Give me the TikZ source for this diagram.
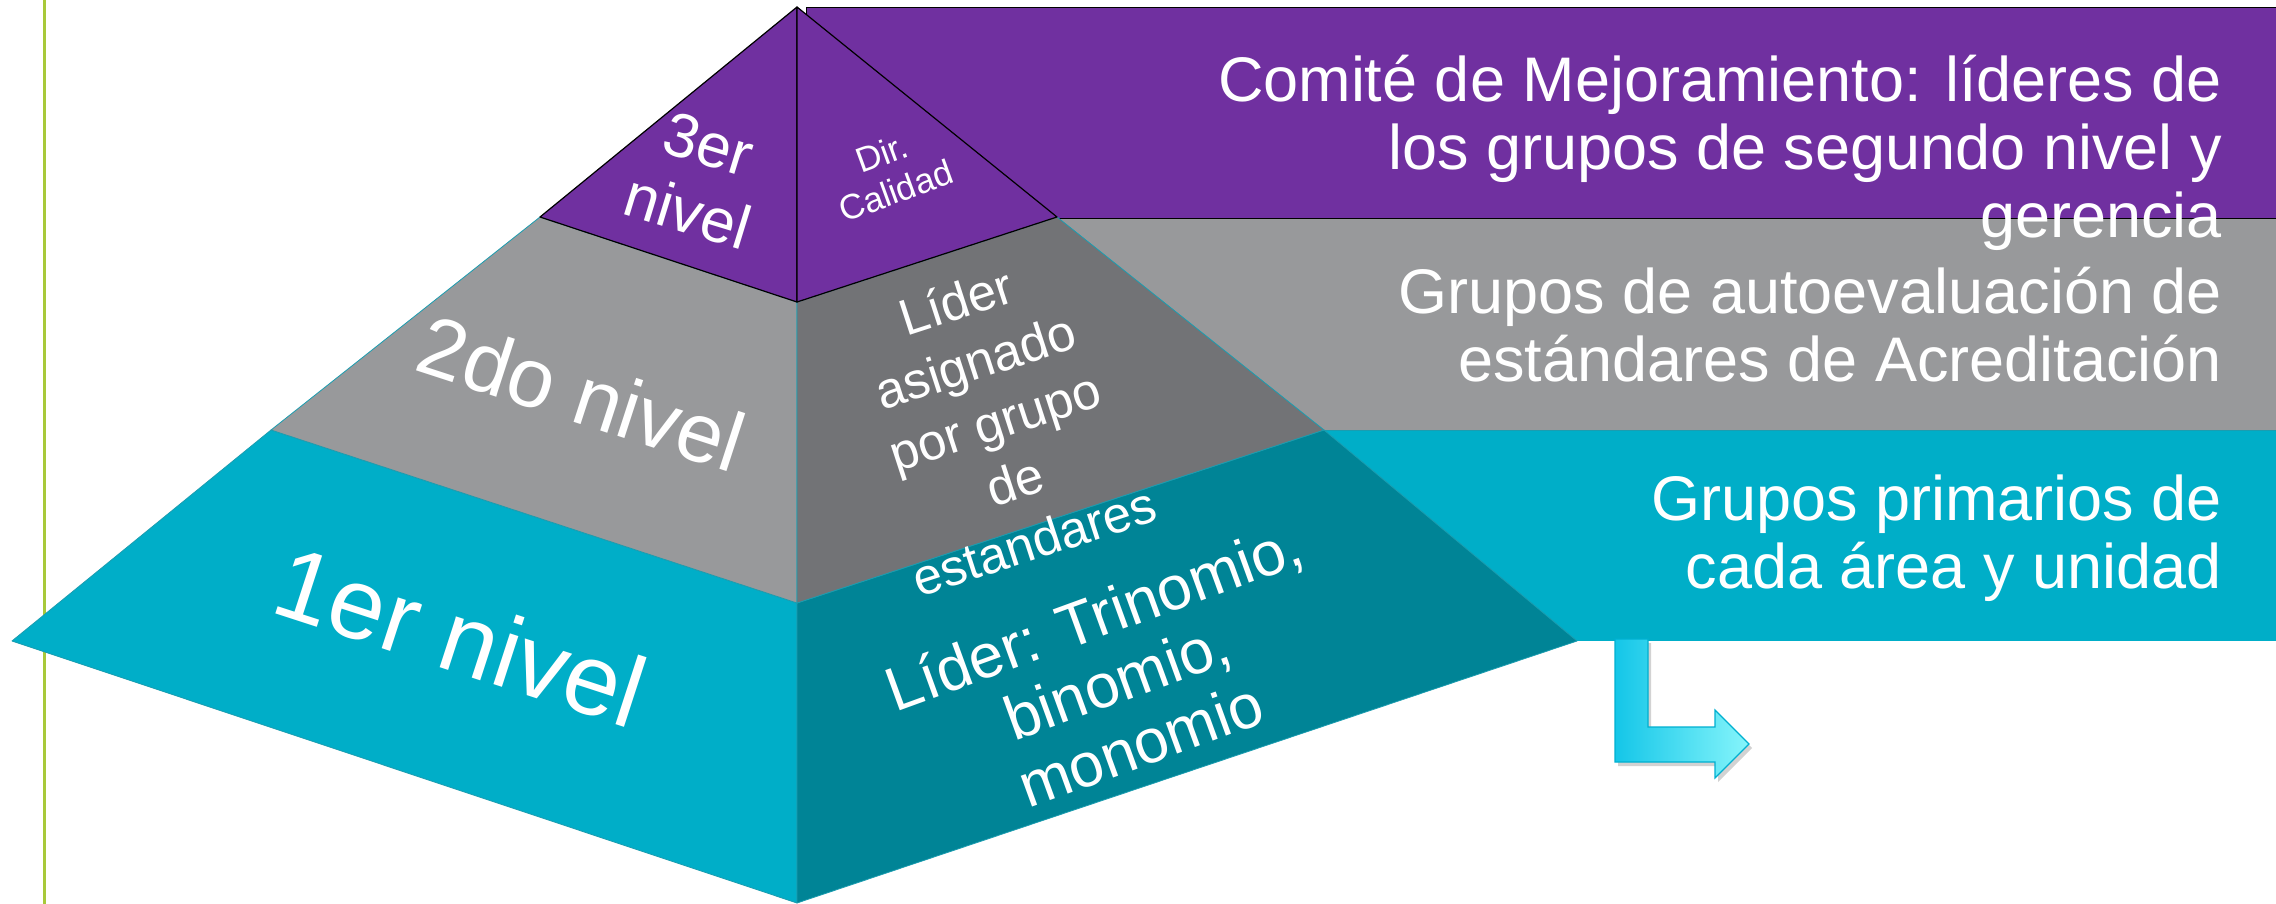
\documentclass[tikz,border=0pt]{standalone}
\usepackage{fontspec}
\setmainfont{Liberation Sans}
\usetikzlibrary{shadows}
\definecolor{purp}{HTML}{7030A0}
\definecolor{grayL}{HTML}{98999B}
\definecolor{grayD}{HTML}{727376}
\definecolor{tealL}{HTML}{00AEC8}
\definecolor{tealD}{HTML}{008496}
\definecolor{tealE}{HTML}{1B9DB0}
\definecolor{lime}{HTML}{A8C93A}
\definecolor{arrA}{HTML}{14C6E8}
\definecolor{arrB}{HTML}{86F5FB}
\definecolor{arrE}{HTML}{00B0D0}
\tikzset{
  purpface/.style={fill=purp, draw=black, line width=1.2pt, line join=round},
  lface/.style={draw=tealE, line width=0.8pt, line join=round},
  ptext/.style={text=white, align=center, inner sep=0pt},
  btext/.style={text=white, align=right, anchor=base east, inner sep=0pt, font=\fontsize{63}{68}\selectfont},
}
\begin{document}
\begin{tikzpicture}[x=1pt,y=-1pt]
\useasboundingbox (0,0) rectangle (2276,904);
\fill[white] (0,0) rectangle (2276,904);
% left rule
\draw[lime, line width=3pt] (44,0) -- (44,904);
% coordinates of the pyramid
\coordinate (apex) at (797,7);
\coordinate (L3) at (540,217);
\coordinate (C3) at (797,302);
\coordinate (R3) at (1057,217);
\coordinate (L2) at (271,430);
\coordinate (C2) at (797,603);
\coordinate (R2) at (1324,430);
\coordinate (L1) at (12,641);
\coordinate (C1) at (797,903);
\coordinate (R1) at (1577,641);
% bands
\fill[tealL] (1300,430) rectangle (2276,641);
\draw[tealE, line width=0.8pt] (1324,430) -- (2276,430);
\fill[grayL] (1040,218) rectangle (2276,430);
\filldraw[fill=purp, draw=black, line width=0.8pt] (806,7) rectangle (2280,218);
% pyramid faces
\filldraw[lface, fill=tealL] (L2) -- (L1) -- (C1) -- (C2) -- cycle;
\filldraw[lface, fill=tealD] (C2) -- (C1) -- (R1) -- (R2) -- cycle;
\filldraw[lface, fill=grayL] (L3) -- (L2) -- (C2) -- (C3) -- cycle;
\filldraw[lface, fill=grayD] (C3) -- (C2) -- (R2) -- (R3) -- cycle;
\filldraw[purpface] (apex) -- (L3) -- (C3) -- cycle;
\filldraw[purpface] (apex) -- (C3) -- (R3) -- cycle;
% pyramid texts
\node[ptext, rotate=-17, font=\fontsize{62}{71}\selectfont] (t3) at (698,178) {3er\\nivel};
\node[ptext, rotate=20, font=\fontsize{35}{40}\selectfont] (d3) at (889,172) {Dir.\\Calidad};
\node[ptext, rotate=-18, font=\fontsize{84}{90}\selectfont] (t2) at (582,393) {2do nivel};
\node[ptext, rotate=18, font=\fontsize{51}{63}\selectfont] (d2) at (995,421) {Líder\\asignado\\por grupo\\de\\estandares};
\node[ptext, rotate=-18, font=\fontsize{101}{104}\selectfont] (t1) at (461,636) {1er nivel};
\node[ptext, rotate=20, font=\fontsize{62}{68}\selectfont] (d1) at (1117,680) {Líder: Trinomio,\\binomio,\\monomio};
% band texts
\node[btext] (b3) at (2222,237) {Comité de Mejoramiento: líderes de\\los grupos de segundo nivel y\\gerencia};
\node[btext] (b2) at (2222,381) {Grupos de autoevaluación de\\estándares de Acreditación};
\node[btext] (b1) at (2222,588) {Grupos primarios de\\cada área y unidad};
% bent arrow
\path[draw=arrE, line width=1.2pt, left color=arrA, right color=arrB, line join=miter,
      drop shadow={shadow xshift=3pt, shadow yshift=-4pt, opacity=0.35}]
  (1615,639) -- (1648,639) -- (1648,727) -- (1715,727) -- (1715,710) -- (1749,744)
  -- (1715,778) -- (1715,762) -- (1615,762) -- cycle;
\end{tikzpicture}
\end{document}
